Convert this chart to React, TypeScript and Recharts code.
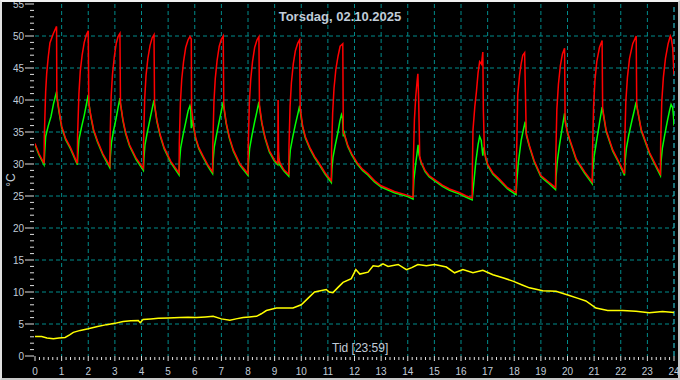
import { LineChart, Line, XAxis, YAxis, CartesianGrid, ReferenceLine } from "recharts";

// [hour, °C]
const tempRed: [number, number][] = [
  [0, 33.2], [0.15, 31.6], [0.34, 30.1],
  [0.35, 34.3], [0.4, 41.3], [0.44, 44.2], [0.5, 46.8], [0.56, 48.9], [0.69, 50.4], [0.81, 51.5],
  [0.82, 40.6], [0.9, 38.5], [1.0, 35.9], [1.15, 34.0], [1.33, 32.6], [1.59, 30.1],
  [1.6, 34.5], [1.65, 41.0], [1.7, 44.5], [1.77, 47.0], [1.85, 49.0], [1.93, 50.2], [2.0, 50.8],
  [2.02, 39.5], [2.1, 37.5], [2.2, 35.4], [2.35, 33.6], [2.55, 31.6], [2.81, 29.7],
  [2.82, 34.0], [2.86, 40.5], [2.91, 44.0], [2.98, 46.8], [3.05, 48.8], [3.12, 49.9], [3.19, 50.4],
  [3.21, 39.5], [3.3, 37.0], [3.4, 35.0], [3.55, 33.0], [3.8, 30.9], [4.07, 29.3],
  [4.08, 33.8], [4.12, 40.2], [4.17, 43.8], [4.24, 46.5], [4.32, 48.5], [4.4, 49.7], [4.47, 50.2],
  [4.49, 39.3], [4.58, 36.8], [4.7, 34.6], [4.85, 32.6], [5.1, 30.4], [5.41, 28.6],
  [5.42, 33.2], [5.46, 39.5], [5.51, 43.2], [5.58, 46.0], [5.66, 48.2], [5.75, 49.4], [5.82, 49.9], [5.87, 49.5],
  [5.88, 38.7], [5.95, 36.2], [6.03, 34.2], [6.15, 32.6], [6.32, 31.2], [6.5, 29.8], [6.67, 28.8],
  [6.68, 33.2], [6.72, 39.6], [6.77, 43.3], [6.84, 46.2], [6.92, 48.4], [7.0, 49.5], [7.07, 50.0],
  [7.09, 39.2], [7.18, 36.5], [7.3, 34.2], [7.45, 32.2], [7.7, 30.0], [8.0, 28.5],
  [8.01, 33.0], [8.05, 39.4], [8.1, 43.1], [8.17, 46.0], [8.25, 48.2], [8.34, 49.4], [8.41, 49.9],
  [8.43, 39.3], [8.52, 36.5], [8.64, 34.2], [8.8, 32.1], [9.0, 30.6], [9.12, 30.1],
  [9.13, 40.0], [9.15, 31.0], [9.2, 30.2], [9.35, 29.1], [9.53, 28.4],
  [9.54, 32.8], [9.58, 39.0], [9.63, 42.7], [9.7, 45.6], [9.78, 47.7], [9.87, 48.9], [9.94, 49.4],
  [9.96, 38.8], [10.05, 36.0], [10.15, 34.3], [10.32, 32.6], [10.5, 31.2], [10.69, 30.0], [10.9, 28.6], [11.13, 27.4],
  [11.14, 32.3], [11.18, 38.0], [11.23, 41.8], [11.3, 44.8], [11.38, 46.8], [11.46, 48.4], [11.51, 48.6], [11.56, 48.8],
  [11.58, 34.9], [11.65, 34.3], [11.75, 32.9], [11.9, 31.6], [12.1, 30.2], [12.3, 29.2], [12.5, 28.5],
  [12.75, 27.4], [13.0, 26.6], [13.5, 25.7], [14.0, 25.1], [14.2, 24.8],
  [14.21, 30.4], [14.25, 36.9], [14.3, 40.5], [14.35, 42.9], [14.38, 44.1], [14.41, 40.0], [14.45, 31.2],
  [14.5, 30.4], [14.65, 29.0], [14.8, 28.2], [15.0, 27.6], [15.3, 26.7], [15.57, 26.1], [15.95, 25.5], [16.2, 25.0], [16.42, 24.7],
  [16.43, 30.0], [16.45, 35.3], [16.52, 39.0], [16.58, 41.3], [16.64, 44.2], [16.7, 46.0], [16.77, 45.6], [16.82, 47.5],
  [16.84, 38.4], [16.88, 31.8], [16.93, 31.0], [17.01, 29.9], [17.2, 28.6], [17.45, 27.6], [17.75, 26.3], [18.07, 25.5],
  [18.08, 29.6], [18.13, 40.8], [18.2, 43.9], [18.26, 45.7], [18.32, 47.0], [18.39, 47.4],
  [18.45, 34.8], [18.57, 32.9], [18.75, 30.5], [19.0, 28.2], [19.26, 27.3], [19.55, 26.3],
  [19.56, 31.0], [19.6, 38.5], [19.66, 42.5], [19.73, 45.3], [19.81, 47.2], [19.89, 48.1],
  [19.91, 36.6], [20.0, 35.0], [20.08, 33.9], [20.33, 30.8], [20.64, 28.8], [20.93, 27.2],
  [20.94, 32.0], [20.98, 39.0], [21.03, 43.0], [21.1, 46.0], [21.2, 48.2], [21.3, 49.3],
  [21.32, 38.7], [21.45, 35.3], [21.7, 32.2], [21.95, 30.2], [22.14, 28.5],
  [22.15, 33.3], [22.19, 39.7], [22.25, 43.5], [22.33, 46.5], [22.45, 48.8], [22.58, 50.0],
  [22.6, 39.2], [22.77, 35.4], [23.08, 31.8], [23.33, 29.7], [23.49, 28.5],
  [23.5, 33.3], [23.54, 39.7], [23.6, 43.5], [23.68, 46.5], [23.78, 48.8], [23.86, 50.0], [23.9, 49.6],
  [23.95, 48.2], [24.0, 44.0],
];

const tempGreen: [number, number][] = [
  [0, 33.0], [0.15, 31.4], [0.34, 29.9],
  [0.36, 31.5], [0.4, 34.3], [0.5, 36.0], [0.6, 37.4], [0.7, 39.5], [0.81, 41.3],
  [0.83, 40.2], [0.9, 38.2], [1.0, 35.7], [1.15, 33.8], [1.33, 32.4], [1.59, 29.9],
  [1.61, 31.5], [1.65, 33.8], [1.75, 35.8], [1.85, 37.6], [1.93, 39.3], [2.0, 40.8],
  [2.02, 39.6], [2.1, 37.3], [2.2, 35.2], [2.35, 33.4], [2.55, 31.4], [2.81, 29.4],
  [2.83, 31.2], [2.87, 33.3], [2.95, 35.2], [3.05, 37.2], [3.12, 38.8], [3.19, 40.3],
  [3.21, 39.4], [3.3, 36.8], [3.4, 34.8], [3.55, 32.8], [3.8, 30.7], [4.07, 29.0],
  [4.09, 30.8], [4.13, 33.0], [4.22, 35.0], [4.32, 37.0], [4.4, 38.6], [4.47, 40.0],
  [4.49, 39.2], [4.58, 36.6], [4.7, 34.4], [4.85, 32.4], [5.1, 30.2], [5.41, 28.3],
  [5.43, 30.4], [5.47, 32.5], [5.56, 34.5], [5.66, 36.5], [5.75, 38.3], [5.82, 39.1], [5.85, 38.6],
  [5.87, 35.6], [5.9, 36.9], [5.95, 35.8], [6.03, 34.0], [6.15, 32.4], [6.32, 31.0], [6.5, 29.6], [6.67, 28.5],
  [6.69, 30.5], [6.73, 32.6], [6.82, 34.6], [6.92, 36.7], [7.0, 38.3], [7.07, 39.7],
  [7.09, 38.9], [7.18, 36.3], [7.3, 34.0], [7.45, 32.0], [7.7, 29.8], [8.0, 28.2],
  [8.02, 30.3], [8.06, 32.4], [8.15, 34.5], [8.25, 36.6], [8.34, 38.3], [8.41, 39.7],
  [8.43, 38.9], [8.52, 36.3], [8.64, 34.0], [8.8, 31.9], [9.0, 30.4], [9.12, 29.9],
  [9.14, 31.9], [9.17, 30.0], [9.35, 28.9], [9.53, 28.1],
  [9.55, 30.1], [9.59, 32.2], [9.68, 34.2], [9.78, 36.2], [9.87, 37.8], [9.94, 39.1],
  [9.96, 38.3], [10.05, 35.8], [10.15, 34.1], [10.32, 32.4], [10.5, 31.0], [10.69, 29.8], [10.9, 28.4], [11.13, 27.1],
  [11.15, 29.1], [11.19, 31.0], [11.28, 33.0], [11.38, 35.0], [11.45, 36.7], [11.51, 37.7], [11.55, 37.2],
  [11.58, 34.3], [11.6, 35.2], [11.65, 34.1], [11.75, 32.7], [11.9, 31.4], [12.1, 30.0], [12.3, 29.0], [12.5, 28.3],
  [12.75, 27.2], [13.0, 26.4], [13.5, 25.5], [14.0, 24.9], [14.2, 24.5],
  [14.23, 27.5], [14.3, 30.1], [14.35, 31.7], [14.39, 33.0], [14.42, 31.5], [14.45, 31.0],
  [14.5, 30.2], [14.65, 28.8], [14.8, 28.0], [15.0, 27.4], [15.3, 26.5], [15.57, 25.9], [15.95, 25.3], [16.2, 24.8], [16.42, 24.4],
  [16.48, 27.0], [16.55, 30.1], [16.64, 33.0], [16.7, 34.3], [16.76, 33.7], [16.82, 31.3], [16.86, 32.6],
  [16.93, 30.8], [17.01, 29.7], [17.2, 28.4], [17.45, 27.4], [17.75, 26.1], [18.07, 25.2],
  [18.1, 27.5], [18.15, 30.1], [18.26, 33.7], [18.35, 35.5], [18.41, 36.6],
  [18.46, 34.4], [18.57, 32.7], [18.75, 30.3], [19.0, 28.0], [19.26, 27.1], [19.55, 26.0],
  [19.57, 28.0], [19.62, 30.5], [19.7, 33.0], [19.8, 35.6], [19.89, 37.9],
  [19.92, 36.8], [20.0, 34.8], [20.08, 33.7], [20.33, 30.6], [20.64, 28.6], [20.93, 26.9],
  [20.95, 28.9], [21.0, 31.2], [21.1, 33.8], [21.2, 36.4], [21.3, 38.9],
  [21.33, 38.2], [21.45, 35.1], [21.7, 32.0], [21.95, 30.0], [22.14, 28.2],
  [22.16, 30.2], [22.21, 32.4], [22.3, 34.5], [22.42, 36.8], [22.5, 38.2], [22.58, 39.7],
  [22.61, 38.9], [22.77, 35.2], [23.08, 31.6], [23.33, 29.5], [23.49, 28.2],
  [23.51, 30.2], [23.56, 32.4], [23.65, 34.5], [23.75, 36.7], [23.83, 38.3], [23.89, 39.3],
  [23.95, 38.8], [23.98, 37.5], [24.0, 36.0],
];

const tempYellow: [number, number][] = [
  [0, 3.05], [0.25, 3.05], [0.45, 2.8], [0.69, 2.7], [0.9, 2.8], [1.13, 2.9], [1.3, 3.3], [1.44, 3.7],
  [1.7, 4.0], [2.0, 4.25], [2.35, 4.6], [2.69, 4.9], [3.0, 5.1], [3.31, 5.4], [3.6, 5.5], [3.88, 5.55],
  [3.95, 5.2], [4.06, 5.7], [4.35, 5.8], [4.63, 5.9], [5.0, 5.95], [5.44, 6.0], [5.75, 6.05], [6.07, 6.0],
  [6.4, 6.1], [6.69, 6.2], [7.0, 5.8], [7.32, 5.6], [7.55, 5.8], [7.82, 6.0], [8.05, 6.1], [8.32, 6.2],
  [8.5, 6.6], [8.69, 7.1], [9.07, 7.5], [9.4, 7.5], [9.69, 7.5], [10.0, 8.0], [10.25, 9.0], [10.5, 10.0],
  [10.94, 10.4], [11.05, 10.0], [11.19, 9.9], [11.4, 10.8], [11.57, 11.5], [11.88, 12.1], [12.05, 13.5],
  [12.2, 12.8], [12.51, 13.1], [12.7, 14.1], [12.9, 14.0], [13.07, 14.4], [13.26, 14.0], [13.64, 14.3],
  [13.95, 13.5], [14.15, 13.8], [14.38, 14.3], [14.7, 14.1], [15.01, 14.3], [15.45, 13.9], [15.76, 13.0],
  [16.07, 13.5], [16.45, 13.0], [16.82, 13.4], [17.2, 12.7], [17.6, 12.2], [17.95, 11.7], [18.3, 11.1],
  [18.57, 10.65], [19.07, 10.2], [19.57, 10.1], [20.07, 9.45], [20.4, 9.0], [20.69, 8.6], [21.07, 7.5],
  [21.51, 7.1], [22.07, 7.1], [22.57, 7.0], [23.07, 6.75], [23.57, 6.95], [24.0, 6.8],
];

const hourLabels = ["0", "1", "2", "3", "4", "5", "6", "7", "8", "9", "10", "11", "12", "13", "14", "15", "16", "17", "18", "19", "20", "21", "22", "23", "24"];
const yLabels = [0, 5, 10, 15, 20, 25, 30, 35, 40, 45, 50, 55];
const gridY = [5, 10, 15, 20, 25, 30, 35, 40, 45, 50];
const gridX = [1, 2, 3, 4, 5, 6, 7, 8, 9, 10, 11, 12, 13, 14, 15, 16, 17, 18, 19, 20, 21, 22, 23];

// minor ticks: every 10 minutes on x, every degree on y
const xTicks = Array.from({ length: 24 * 6 + 1 }, (_, i) => i / 6);
const yTicks = Array.from({ length: 56 }, (_, i) => i);

const toRows = (pts: [number, number][]) => pts.map(([h, v]) => ({ h, v }));

const textColor = "#c0ccd8";
const font = "'Liberation Sans', Arial, sans-serif";

const XTick = (props: any) => {
  const { x, y, payload } = props;
  const v = payload.value as number;
  const major = Math.abs(v - Math.round(v)) < 1e-6;
  return (
    <g>
      <line x1={x} x2={x} y1={y + (major ? 0 : 1)} y2={y + (major ? 5 : 4)} stroke="#e0e0e0" />
      {major && (
        <text x={x} y={y + 19} textAnchor="middle" fill={textColor} fontSize={10} fontFamily={font}>
          {hourLabels[Math.round(v)]}
        </text>
      )}
    </g>
  );
};

const YTick = (props: any) => {
  const { x, y, payload } = props;
  const v = payload.value as number;
  const major = yLabels.includes(v);
  return (
    <g>
      <line x1={x - (major ? 10 : 5)} x2={x - 1} y1={y} y2={y} stroke="#e0e0e0" />
      {major && (
        <text x={x - 11} y={y + 3.5} textAnchor="end" fill={textColor} fontSize={10} fontFamily={font}>
          {v}
        </text>
      )}
    </g>
  );
};

export default function App() {
  return (
    <div style={{ position: "relative", width: 680, height: 380, background: "#000", fontFamily: font }}>
      <style>{"body{margin:0}"}</style>
      <LineChart width={680} height={380} margin={{ top: 4, right: 6, bottom: 0, left: 0 }}>
        <CartesianGrid
          stroke="#008b8b"
          strokeDasharray="4 3"
          horizontalValues={gridY}
          verticalValues={gridX}
        />
        <XAxis
          type="number"
          dataKey="h"
          domain={[0, 24]}
          ticks={xTicks}
          interval={0}
          axisLine={false}
          tickLine={false}
          tickSize={0}
          tickMargin={0}
          height={24}
          tick={<XTick />}
          allowDataOverflow
        />
        <YAxis
          type="number"
          domain={[0, 55]}
          ticks={yTicks}
          interval={0}
          axisLine={false}
          tickLine={false}
          tickSize={0}
          tickMargin={0}
          width={35}
          tick={<YTick />}
        />
        <ReferenceLine x={24} stroke="#30d8e8" strokeDasharray="5 3" />
        <Line data={toRows(tempYellow)} dataKey="v" stroke="#ffff00" strokeWidth={1.5} dot={false} isAnimationActive={false} />
        <Line data={toRows(tempGreen)} dataKey="v" stroke="#00ff00" strokeWidth={1.5} dot={false} isAnimationActive={false} />
        <Line data={toRows(tempRed)} dataKey="v" stroke="#ff0000" strokeWidth={1.5} dot={false} isAnimationActive={false} />
      </LineChart>
      <div style={{ position: "absolute", top: 9, left: 0, width: 680, textAlign: "center", fontSize: 13, lineHeight: "16px", fontWeight: "bold", color: textColor }}>
        Torsdag, 02.10.2025
      </div>
      <div style={{ position: "absolute", top: 341, left: 332, fontSize: 12, lineHeight: "14px", color: textColor, whiteSpace: "nowrap" }}>
        Tid [23:59]
      </div>
      <div style={{ position: "absolute", left: 11, top: 180, transform: "translate(-50%, -50%) rotate(-90deg)", fontSize: 12, lineHeight: "14px", color: textColor, whiteSpace: "nowrap" }}>
        °C
      </div>
      <div style={{ position: "absolute", inset: 0, border: "2px solid #c8c8c8", borderTopColor: "#f0f0f0", borderLeftColor: "#e0e0e0", pointerEvents: "none" }} />
    </div>
  );
}
